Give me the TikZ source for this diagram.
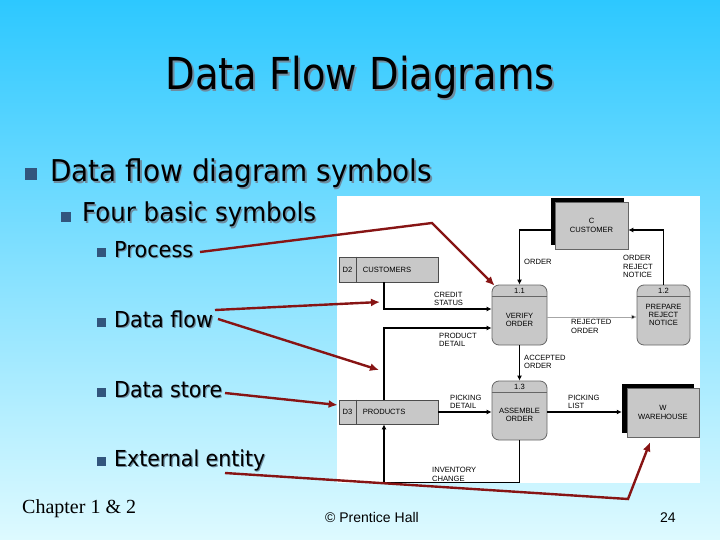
\documentclass[tikz,border=0pt]{standalone}
\usepackage{graphicx}
\usepackage{fontspec}
\setmainfont{DejaVu Sans}
\newfontfamily\arialfont{Liberation Sans}
\newfontfamily\timesfont{Liberation Serif}
\usetikzlibrary{arrows.meta,calc}
\definecolor{bgtop}{RGB}{45,200,255}
\definecolor{bgmid}{RGB}{140,222,252}
\definecolor{bgbot}{RGB}{222,250,255}
\definecolor{dred}{RGB}{135,20,20}
\definecolor{boxgray}{RGB}{200,200,200}
\definecolor{bulletblue}{RGB}{50,85,125}
\definecolor{shgray}{RGB}{110,140,160}
\newcommand\shtxt[2]{\makebox[0pt][l]{\hspace{#1}\raisebox{-#1}{\textcolor{shgray}{#2}}}#2}
\newcommand\dfont{\arialfont\fontsize{7.6}{8.4}\selectfont}
\tikzset{
  store/.style={draw=black!70, fill=boxgray, line width=0.8pt, minimum width=99pt, inner sep=0},
  proc/.style={draw=black!60, fill=boxgray, rounded corners=7pt, line width=0.8pt, minimum width=55pt, minimum height=60pt, inner sep=0},
  ent/.style={draw=black!60, fill=boxgray, line width=0.6pt, inner sep=0, align=center, font=\dfont},
  entshadow/.style={fill=black, inner sep=0},
  flow/.style={line width=1.7pt, -{Latex[length=5pt,width=5pt]}},
  thinflow/.style={line width=0.6pt, draw=black!35, -{Latex[length=5pt,width=5pt,fill=black]}},
  pointer/.style={dred, line width=2.4pt, -{Latex[length=9pt,width=8pt]}},
  dtext/.style={font=\dfont, align=left, inner sep=0},
  ctext/.style={font=\dfont, align=center, inner sep=0},
  bulletsq/.style={fill=bulletblue, inner sep=0},
  slidetext/.style={inner sep=0, text=black},
}
\begin{document}
\begin{tikzpicture}[x=1pt,y=-1pt]
\useasboundingbox (0,0) rectangle (720,540);
% background
\shade[top color=bgtop, middle color=bgmid, bottom color=bgbot] (0,0) rectangle (720,540);
% title
\node[slidetext, anchor=base, font=\fontsize{44}{50}\selectfont] (title) at (360,90)
  {\resizebox{389pt}{\height}{\shtxt{2pt}{Data Flow Diagrams}}};
% bullets
\node[bulletsq, minimum size=12pt] (b1) at (31,174) {};
\node[slidetext, anchor=base west, font=\fontsize{30}{34}\selectfont] (t1) at (50,182)
  {\resizebox{382pt}{\height}{\shtxt{1.5pt}{Data flow diagram symbols}}};
\node[bulletsq, minimum size=10pt] (b2) at (66,217) {};
\node[slidetext, anchor=base west, font=\fontsize{26}{30}\selectfont] (t2) at (82,222)
  {\resizebox{234pt}{\height}{\shtxt{1.5pt}{Four basic symbols}}};
\node[bulletsq, minimum size=9pt] (b3) at (101.5,252.5) {};
\node[slidetext, anchor=base west, font=\fontsize{22}{26}\selectfont] (t3) at (114,257)
  {\resizebox{79pt}{\height}{\shtxt{1.2pt}{Process}}};
\node[bulletsq, minimum size=9pt] (b4) at (101.5,322.5) {};
\node[slidetext, anchor=base west, font=\fontsize{22}{26}\selectfont] (t4) at (114,327)
  {\resizebox{99pt}{\height}{\shtxt{1.2pt}{Data flow}}};
\node[bulletsq, minimum size=9pt] (b5) at (101.5,392.5) {};
\node[slidetext, anchor=base west, font=\fontsize{22}{26}\selectfont] (t5) at (114,397)
  {\resizebox{108pt}{\height}{\shtxt{1.2pt}{Data store}}};
\node[bulletsq, minimum size=9pt] (b6) at (101.5,461.5) {};
\node[slidetext, anchor=base west, font=\fontsize{22}{26}\selectfont] (t6) at (114,466)
  {\resizebox{151pt}{\height}{\shtxt{1.2pt}{External entity}}};
% footer
\node[slidetext, anchor=base west, font=\timesfont\fontsize{20}{24}\selectfont] (chap) at (22,513) {Chapter 1 \& 2};
\node[slidetext, anchor=base west, font=\arialfont\fontsize{14}{16}\selectfont] (copy) at (325,522) {© Prentice Hall};
\node[slidetext, anchor=base west, font=\arialfont\fontsize{14}{16}\selectfont] (pg) at (660,522) {24};
% white panel of the diagram
\fill[white] (337,196) rectangle (700,483);
% external entities
\node[entshadow, minimum width=73pt, minimum height=47pt] (custsh) at (587.5,221.5) {};
\node[ent, minimum width=73pt, minimum height=47pt] (cust) at (591.5,225.5) {C\\CUSTOMER};
\node[entshadow, minimum width=72pt, minimum height=49pt] (whsh) at (658,408.5) {};
\node[ent, minimum width=72pt, minimum height=49pt] (wh) at (663,412.5) {W\\WAREHOUSE};
% data stores
\node[store, minimum height=25pt] (d2) at (388.5,269.5) {};
\draw[black!70, line width=0.8pt] ([xshift=18pt]d2.north west) -- ([xshift=18pt]d2.south west);
\node[ctext] (d2id) at ([xshift=9pt]d2.west) {D2};
\node[dtext, anchor=west] (d2name) at ([xshift=24pt]d2.west) {CUSTOMERS};
\node[store, minimum height=24pt] (d3) at (388.5,412) {};
\draw[black!70, line width=0.8pt] ([xshift=18pt]d3.north west) -- ([xshift=18pt]d3.south west);
\node[ctext] (d3id) at ([xshift=9pt]d3.west) {D3};
\node[dtext, anchor=west] (d3name) at ([xshift=24pt]d3.west) {PRODUCTS};
% processes
\node[proc] (p11) at (519.5,315) {};
\draw[black!60, line width=0.8pt] ([yshift=-12pt]p11.north west) -- ([yshift=-12pt]p11.north east);
\node[ctext] (p11id) at ([yshift=-6pt]p11.north) {1.1};
\node[ctext] (p11t) at (519.5,320) {VERIFY\\ORDER};
\node[proc, minimum width=53pt] (p12) at (663.5,315) {};
\draw[black!60, line width=0.8pt] ([yshift=-12pt]p12.north west) -- ([yshift=-12pt]p12.north east);
\node[ctext] (p12id) at ([yshift=-6pt]p12.north) {1.2};
\node[ctext] (p12t) at (663.5,315) {PREPARE\\REJECT\\NOTICE};
\node[proc, minimum height=59pt] (p13) at (519.5,410.5) {};
\draw[black!60, line width=0.8pt] ([yshift=-12pt]p13.north west) -- ([yshift=-12pt]p13.north east);
\node[ctext] (p13id) at ([yshift=-6pt]p13.north) {1.3};
\node[ctext] (p13t) at (519.5,415) {ASSEMBLE\\ORDER};
% data flows
\draw[flow] ([yshift=-4.5pt]cust.west) -| (p11.north);
\draw[flow] (p12.north) |- ([yshift=-4.5pt]cust.east);
\draw[flow] ([xshift=-4.5pt]d2.south) |- ([yshift=6pt]p11.west);
\draw[flow] ([xshift=-4.5pt]d3.north) |- ([yshift=-13pt]p11.west);
\draw[thinflow] ([yshift=-2pt]p11.east) -- ([yshift=-2pt]p12.west);
\draw[flow] (p11.south) -- (p13.north);
\draw[flow] (d3.east) -- (d3.east -| p13.west);
\draw[flow] (d3.east -| p13.east) -- (d3.east -| whsh.west);
\draw[flow] (p13.south) -- ++(0,42) -| ([xshift=-4.5pt]d3.south);
% flow labels
\node[dtext, anchor=west] (lorder) at (524,262) {ORDER};
\node[dtext, anchor=west] (lreject) at (623,266.5) {ORDER\\REJECT\\NOTICE};
\node[dtext, anchor=west] (lcredit) at (434,299) {CREDIT\\STATUS};
\node[dtext, anchor=west] (lproduct) at (439,340) {PRODUCT\\DETAIL};
\node[dtext, anchor=west] (lrejected) at (571,326.5) {REJECTED\\ORDER};
\node[dtext, anchor=west] (laccepted) at (524,362) {ACCEPTED\\ORDER};
\node[dtext, anchor=west] (lpickd) at (450,402) {PICKING\\DETAIL};
\node[dtext, anchor=west] (lpickl) at (568,402) {PICKING\\LIST};
\node[dtext, anchor=west] (linv) at (432,474.5) {INVENTORY\\CHANGE};
% red pointers
\coordinate (sproc) at (200,252);
\coordinate (kproc) at (432,223);
\draw[pointer] (sproc) -- (kproc) -- ([xshift=3pt,yshift=-1pt]p11.north west);
\coordinate (sflow1) at (215,310);
\coordinate (eflow1) at (380,302);
\draw[pointer] (sflow1) -- (eflow1);
\coordinate (sflow2) at (218,319);
\coordinate (eflow2) at (379,370);
\draw[pointer] (sflow2) -- (eflow2);
\coordinate (sstore) at (225,393);
\draw[pointer] (sstore) -- ([xshift=-1pt,yshift=7pt]d3.west);
\coordinate (sext) at (225,473);
\coordinate (kext) at (628,499);
\draw[pointer] (sext) -- (kext) -- ([xshift=-13pt,yshift=-5pt]wh.south);
\end{tikzpicture}
\end{document}
